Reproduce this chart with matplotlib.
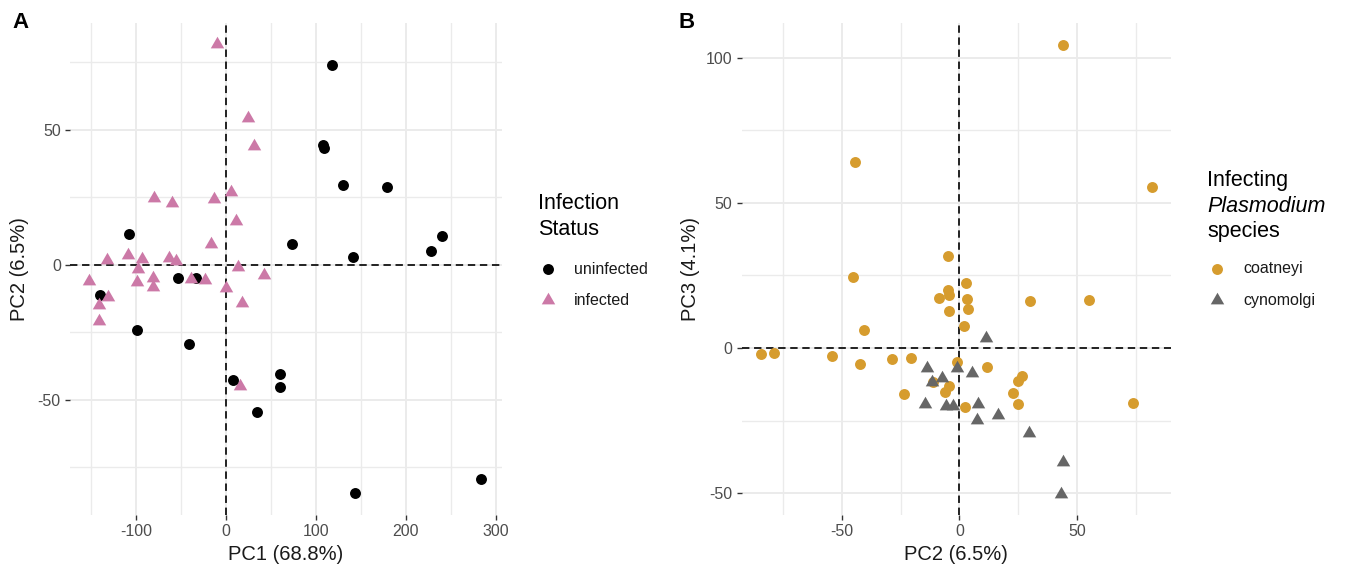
import matplotlib
matplotlib.use("Agg")
import matplotlib.pyplot as plt
from matplotlib.ticker import MultipleLocator, FixedLocator

plt.rcParams['font.family'] = ['Liberation Sans', 'DejaVu Sans']
plt.rcParams['axes.unicode_minus'] = False

# ---------------- Panel A data (PC1 vs PC2, in drawing order) ----------------
pc1_a = [117.8, 108.0, 108.5, 130.4, 178.5, 240.3, 227.8, 141.5, 73.7, -107.4,
         -53.0, -33.3, -139.6, -98.5, -40.7, 60.0, 60.0, 34.1, 143.3, 283.7,
         -10.0, 24.4, 31.1, -80.0, -60.0, -13.3, 5.6, 11.1, -17.0, -132.6,
         -108.5, -93.7, -63.0, -55.6, -97.4, 13.7, -151.9, -99.2, -81.5, -81.5,
         -38.9, -23.0, 42.2, -0.4, 17.4, -131.4, -141.0, -140.8, 15.6,
         8.1]
pc2_a = [74.1, 44.3, 43.2, 29.6, 29.0, 10.8, 5.0, 3.0, 7.7, 11.5,
         -4.7, -4.7, -11.1, -24.1, -29.1, -40.5, -45.1, -54.4, -84.6, -79.1,
         82.0, 54.6, 44.2, 24.7, 22.9, 24.5, 26.9, 16.3, 7.8, 1.9,
         3.5, 2.2, 2.5, 1.5, -1.5, -0.9, -5.8, -6.4, -4.7, -8.0,
         -5.2, -5.5, -3.7, -8.6, -14.2, -12.0, -15.0, -20.7, -44.8,
         -42.6]
status_a = (['uninfected'] * 20) + (['infected'] * 29) + ['uninfected']

# ---------------- Panel B data (PC2 vs PC3) ----------------
coat_pc2 = [-4.75, 2.76, -5.0, -4.3, -8.6, 3.3, 29.9, -4.3, 3.7, 1.9,
            -28.8, -20.6, -0.9, 11.5, 26.4, 25.0, -11.1, -4.3, -6.2, -23.6,
            22.8, 24.7, 2.5, -45.1, -40.5, -84.4, -78.7, -54.1, -42.2,
            43.9, 81.6, -44.4, 55.0, 73.6]
coat_pc3 = [31.7, 22.3, 20.0, 18.3, 17.1, 16.8, 16.2, 12.9, 13.4, 7.6,
            -3.75, -3.5, -4.8, -6.6, -9.6, -11.2, -11.6, -13.1, -15.0, -15.8,
            -15.6, -19.2, -20.2, 24.6, 6.2, -2.0, -1.8, -2.7, -5.6,
            104.4, 55.6, 64.1, 16.6, -18.9]
cyno_pc2 = [11.2, -13.9, -0.9, 5.2, -7.6, -11.5, -14.6, -5.7, -2.9, 8.0,
            7.6, 16.5, 29.5, 43.8, 43.1]
cyno_pc3 = [3.3, -7.0, -6.8, -8.7, -10.4, -11.8, -19.3, -19.8, -19.8, -19.4,
            -24.8, -23.1, -29.1, -39.1, -50.3]

col_uninf = 'black'
col_inf = '#CC79A7'
col_coat = '#D69C2E'
col_cyno = '#666666'

TRI = [(0, 1), (0.866, -0.5), (-0.866, -0.5)]
S_CIRC = 62
S_TRI = 125

W, H = 1345, 568
fig = plt.figure(figsize=(W / 100, H / 100), dpi=100)
axA = fig.add_axes([70 / W, 1 - 515 / H, 432 / W, 492 / H])
axB = fig.add_axes([741.7 / W, 1 - 515 / H, (1171 - 741.7) / W, 492 / H])


def style(ax, major_x, major_y):
    for s in ax.spines.values():
        s.set_visible(False)
    ax.xaxis.set_major_locator(FixedLocator(major_x))
    ax.yaxis.set_major_locator(FixedLocator(major_y))
    ax.xaxis.set_minor_locator(MultipleLocator((major_x[1] - major_x[0]) / 2))
    ax.yaxis.set_minor_locator(MultipleLocator((major_y[1] - major_y[0]) / 2))
    ax.grid(True, which='major', color='#EBEBEB', lw=1.4, zorder=0)
    ax.grid(True, which='minor', color='#EBEBEB', lw=1.0, zorder=0)
    ax.set_axisbelow(True)
    ax.tick_params(which='major', length=3.6, width=1.0, color='#333333',
                   labelsize=11.5, labelcolor='#4D4D4D', pad=3)
    ax.tick_params(which='minor', length=0)
    ax.axhline(0, color='#222222', lw=1.4, ls=(0, (3.8, 2.4)), zorder=1)
    ax.axvline(0, color='#222222', lw=1.4, ls=(0, (3.8, 2.4)), zorder=1)


style(axA, [-100, 0, 100, 200, 300], [-50, 0, 50])
axA.set_xlim(-173.3, 306.7)
axA.set_ylim(-92.6, 89.6)
for x, y, st in zip(pc1_a, pc2_a, status_a):
    if st == 'uninfected':
        axA.scatter([x], [y], s=S_CIRC, marker='o', color=col_uninf, linewidths=0, zorder=3)
    else:
        axA.scatter([x], [y], s=S_TRI, marker=TRI, color=col_inf, linewidths=0, zorder=3)

style(axB, [-50, 0, 50], [-50, 0, 50, 100])
axB.set_xlim(-92.4, 89.8)
axB.set_ylim(-57.5, 111.9)
axB.scatter(coat_pc2, coat_pc3, s=S_CIRC, marker='o', color=col_coat, linewidths=0, zorder=3)
axB.scatter(cyno_pc2, cyno_pc3, s=S_TRI, marker=TRI, color=col_cyno, linewidths=0, zorder=4)

# ---------------- overlay for titles, legends, panel labels ----------------
ov = fig.add_axes([0, 0, 1, 1], zorder=10)
ov.set_xlim(0, W)
ov.set_ylim(H, 0)
ov.axis('off')
ov.patch.set_alpha(0)

ov.text(12.7, 28.3, 'A', fontsize=16, fontweight='bold', va='baseline', ha='left')
ov.text(679, 28.3, 'B', fontsize=16, fontweight='bold', va='baseline', ha='left')

ov.text(286, 554, 'PC1 (68.8%)', fontsize=14.5, ha='center', va='center', color='#1A1A1A')
ov.text(20, 269, 'PC2 (6.5%)', fontsize=14.5, ha='center', va='center', rotation=90, color='#1A1A1A')
ov.text(956, 554, 'PC2 (6.5%)', fontsize=14.5, ha='center', va='center', color='#1A1A1A')
ov.text(690, 269, 'PC3 (4.1%)', fontsize=14.5, ha='center', va='center', rotation=90, color='#1A1A1A')

# legend A
ov.text(538, 209.3, 'Infection', fontsize=15.5, va='baseline', ha='left')
ov.text(538, 235, 'Status', fontsize=15.5, va='baseline', ha='left')
ov.scatter([548.3], [268.8], s=S_CIRC, marker='o', color=col_uninf, linewidths=0)
ov.scatter([548.3], [300.0], s=S_TRI, marker=TRI, color=col_inf, linewidths=0)
ov.text(574, 269, 'uninfected', fontsize=11.5, va='center', ha='left', color='#1A1A1A')
ov.text(574, 300.7, 'infected', fontsize=11.5, va='center', ha='left', color='#1A1A1A')

# legend B
ov.text(1207, 186, 'Infecting', fontsize=15.5, va='baseline', ha='left')
ov.text(1207, 211.5, 'Plasmodium', fontsize=15.5, va='baseline', ha='left', fontstyle='italic')
ov.text(1207, 237, 'species', fontsize=15.5, va='baseline', ha='left')
ov.scatter([1217], [268.8], s=S_CIRC, marker='o', color=col_coat, linewidths=0)
ov.scatter([1217], [300.0], s=S_TRI, marker=TRI, color=col_cyno, linewidths=0)
ov.text(1243, 269, 'coatneyi', fontsize=11.5, va='center', ha='left', color='#1A1A1A')
ov.text(1243, 300.7, 'cynomolgi', fontsize=11.5, va='center', ha='left', color='#1A1A1A')

fig.savefig('out.png', dpi=100)
